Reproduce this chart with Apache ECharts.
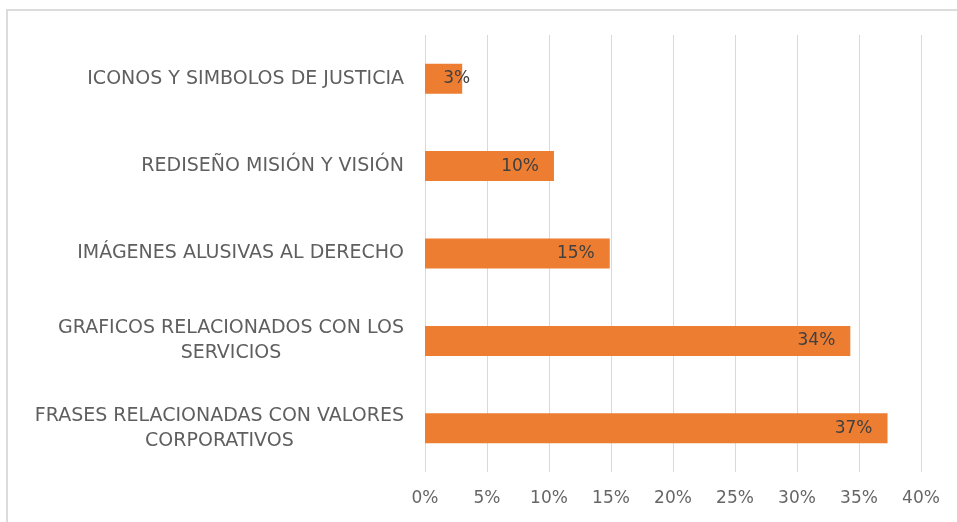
<!DOCTYPE html>
<html>
<head>
<meta charset="utf-8">
<script src="https://cdn.jsdelivr.net/npm/echarts@6/dist/echarts.min.js"></script>
<style>
body{margin:0;background:#fff;}
#chart{position:absolute;left:0;top:0;width:957px;height:522px;}
.frame{position:absolute;left:6px;top:9px;right:0;bottom:0;border-top:2px solid #dcdcdc;border-left:2px solid #dcdcdc;pointer-events:none;}
</style>
</head>
<body>
<div id="chart"></div>
<div class="frame"></div>
<script>
// categorias (de arriba hacia abajo)
var categories = [
  'ICONOS Y SIMBOLOS DE JUSTICIA',
  'REDISEÑO MISIÓN Y VISIÓN',
  'IMÁGENES ALUSIVAS AL DERECHO',
  'GRAFICOS RELACIONADOS CON LOS\nSERVICIOS',
  'FRASES RELACIONADAS CON VALORES\nCORPORATIVOS'
];
var values = [3.0, 10.4, 14.9, 34.3, 37.3];
var xTicks = [0, 5, 10, 15, 20, 25, 30, 35, 40];

var myChart = echarts.init(document.getElementById('chart'));
var font = '"DejaVu Sans", sans-serif';

var option = {
  animation: false,
  grid: { left: 425, right: 36, top: 35, bottom: 50 },
  xAxis: {
    type: 'value',
    min: xTicks[0],
    max: xTicks[xTicks.length - 1],
    interval: 5,
    axisLine: { show: false },
    axisTick: { show: false },
    axisLabel: {
      color: '#666666', fontSize: 17, fontFamily: font, margin: 18,
      formatter: function (v) { return v + '%'; }
    },
    splitLine: { lineStyle: { color: '#d9d9d9', width: 1 } }
  },
  yAxis: {
    type: 'category',
    data: categories,
    inverse: true,
    axisLine: { show: false },
    axisTick: { show: false },
    axisLabel: {
      color: '#5f5f5f', fontSize: 19, fontFamily: font, margin: 21,
      lineHeight: 25,
      formatter: function (v) {
        return v.split('\n').map(function (s) { return '{c|' + s + '}'; }).join('\n');
      },
      rich: { c: { align: 'center', color: '#5f5f5f', fontSize: 19, fontFamily: font, lineHeight: 25 } }
    }
  },
  series: [{
    type: 'bar',
    barWidth: 30,
    data: values.map(function (v) {
      var item = { value: v };
      // la etiqueta corta no cabe dentro de la barra
      if (v < 5) item.label = { distance: -8 };
      return item;
    }),
    itemStyle: { color: '#ED7D31' },
    label: {
      show: true,
      position: 'insideRight',
      distance: 15,
      color: '#404040',
      fontSize: 17,
      fontFamily: font,
      formatter: function (p) { return Math.round(p.value) + '%'; }
    }
  }]
};

myChart.setOption(option);
</script>
</body>
</html>
